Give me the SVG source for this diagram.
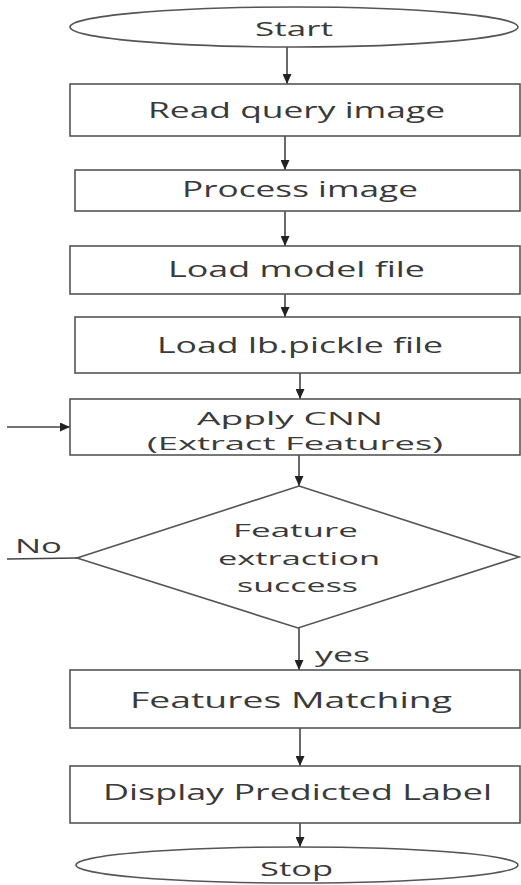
<svg xmlns="http://www.w3.org/2000/svg" width="521" height="885" viewBox="0 0 521 885">
<style>
.shape{fill:#fff;stroke:#555;stroke-width:1.6}
.line{fill:none;stroke:#444;stroke-width:1.6}
text{font-family:"Open Sans","Liberation Sans",sans-serif;font-size:22px;fill:#3a3a3a;text-anchor:middle}
text.s18{font-size:18px}
text.s19{font-size:19px}
text.s20{font-size:20px}
.lbl{text-anchor:start}
</style>
<defs>
<marker id="ah" markerUnits="userSpaceOnUse" markerWidth="10" markerHeight="9" refX="10" refY="4.5" orient="auto">
<path d="M0,0 L10,4.5 L0,9 Z" fill="#222"/>
</marker>
</defs>
<rect width="521" height="885" fill="#fff"/>
<g id="connectors">
<line class="line" x1="287" y1="47" x2="287" y2="84" marker-end="url(#ah)"/>
<line class="line" x1="285" y1="136" x2="285" y2="170" marker-end="url(#ah)"/>
<line class="line" x1="285" y1="211" x2="285" y2="246" marker-end="url(#ah)"/>
<line class="line" x1="285" y1="294" x2="285" y2="317" marker-end="url(#ah)"/>
<line class="line" x1="300" y1="373" x2="300" y2="399" marker-end="url(#ah)"/>
<line class="line" x1="7" y1="427" x2="70" y2="427" marker-end="url(#ah)"/>
<line class="line" x1="299" y1="455" x2="299" y2="486" marker-end="url(#ah)"/>
<line class="line" x1="7" y1="559" x2="77" y2="558"/>
<line class="line" x1="299" y1="628" x2="299" y2="670" marker-end="url(#ah)"/>
<line class="line" x1="300" y1="728" x2="300" y2="766" marker-end="url(#ah)"/>
<line class="line" x1="300" y1="823" x2="300" y2="847" marker-end="url(#ah)"/>
<text class="lbl s20" x="15" y="553" textLength="47" lengthAdjust="spacingAndGlyphs">No</text>
<text class="lbl s20" x="315" y="662" textLength="55" lengthAdjust="spacingAndGlyphs">yes</text>
</g>
<g id="start">
<ellipse class="shape" cx="294" cy="27" rx="224" ry="20"/>
<text class="s20" x="294" y="36" textLength="78" lengthAdjust="spacingAndGlyphs">Start</text>
</g>
<g id="read">
<rect class="shape" x="70" y="84" width="450" height="52"/>
<text x="296.5" y="118" textLength="297" lengthAdjust="spacingAndGlyphs">Read query image</text>
</g>
<g id="process">
<rect class="shape" x="75" y="170" width="445" height="41"/>
<text x="300" y="197" textLength="236" lengthAdjust="spacingAndGlyphs">Process image</text>
</g>
<g id="loadmodel">
<rect class="shape" x="70" y="246" width="450" height="48"/>
<text x="296.5" y="277" textLength="257" lengthAdjust="spacingAndGlyphs">Load model file</text>
</g>
<g id="loadlb">
<rect class="shape" x="75" y="317" width="445" height="56"/>
<text x="300" y="353" textLength="286" lengthAdjust="spacingAndGlyphs">Load lb.pickle file</text>
</g>
<g id="cnn">
<rect class="shape" x="70" y="399" width="450" height="56"/>
<text class="s18" x="290" y="425" textLength="186" lengthAdjust="spacingAndGlyphs">Apply CNN</text>
<text class="s18" x="295" y="450" textLength="296" lengthAdjust="spacingAndGlyphs">(Extract Features)</text>
</g>
<g id="decision">
<polygon class="shape" points="299,486 519,557 298,628 77,558"/>
<text class="s19" x="295.5" y="537" textLength="125" lengthAdjust="spacingAndGlyphs">Feature</text>
<text class="s19" x="299" y="565" textLength="162" lengthAdjust="spacingAndGlyphs">extraction</text>
<text class="s19" x="297.5" y="592" textLength="121" lengthAdjust="spacingAndGlyphs">success</text>
</g>
<g id="matching">
<rect class="shape" x="70" y="670" width="450" height="58"/>
<text x="291" y="708" textLength="322" lengthAdjust="spacingAndGlyphs">Features Matching</text>
</g>
<g id="display">
<rect class="shape" x="70" y="766" width="450" height="57"/>
<text x="297.5" y="800" textLength="389" lengthAdjust="spacingAndGlyphs">Display Predicted Label</text>
</g>
<g id="stop">
<ellipse class="shape" cx="297" cy="865" rx="221" ry="18"/>
<text class="s20" x="296.5" y="876" textLength="73" lengthAdjust="spacingAndGlyphs">Stop</text>
</g>
</svg>
